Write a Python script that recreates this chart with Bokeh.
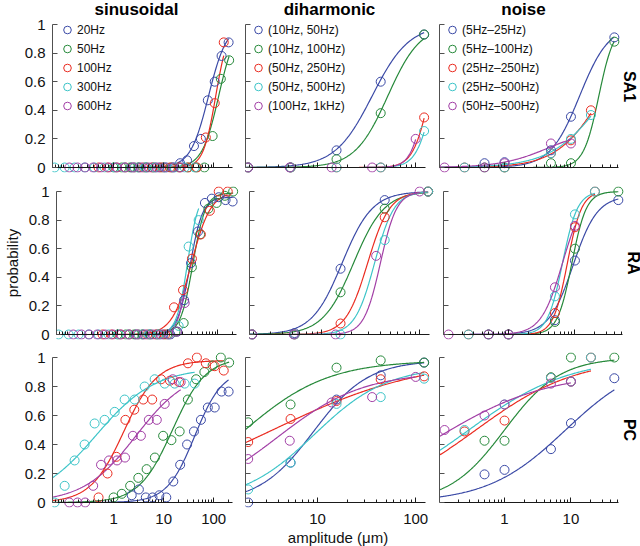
import numpy as np
from bokeh.plotting import figure
from bokeh.layouts import column, row
from bokeh.models import (Range1d, FixedTicker, CustomJSTickFormatter, Legend,
                          LegendItem, Label, Title, LogAxis)
from bokeh.embed import file_html
from bokeh.resources import INLINE

FONT = "Liberation Sans"
COLORS = ["#3b4aa6", "#26893a", "#ea2b20", "#3cc4c8", "#a23fa6"]

# ---------------- data ----------------
col_titles = ["sinusoidal", "diharmonic", "noise"]
row_titles = ["SA1", "RA", "PC"]
x_label = "amplitude (\u03bcm)"
y_label = "probability"

sin_labels = ["20Hz", "50Hz", "100Hz", "300Hz", "600Hz"]
dih_labels = ["(10Hz, 50Hz)", "(10Hz, 100Hz)", "(50Hz, 250Hz)", "(50Hz, 500Hz)", "(100Hz, 1kHz)"]
noise_labels = ["(5Hz\u201325Hz)", "(5Hz\u2013100Hz)", "(25Hz\u2013250Hz)", "(25Hz\u2013500Hz)", "(50Hz\u2013500Hz)"]

# sinusoidal amplitudes (um) per frequency
sin_amp_20 = [2.3, 3.2, 4.4, 6.0, 8.2, 11.3, 15.6, 21.4, 29.4, 40.4, 55.6, 76.4, 105, 144, 199]
sin_amp_50 = [1.0, 1.46, 2.14, 3.12, 4.57, 6.68, 9.77, 14.3, 20.9, 30.5, 44.6, 65.2, 95.3, 139, 204]
sin_amp_100 = [0.5, 0.755, 1.14, 1.72, 2.59, 3.91, 5.9, 8.9, 13.4, 20.3, 30.6, 46.2, 69.7, 105, 159]
sin_amp_300 = [0.066, 0.105, 0.166, 0.263, 0.417, 0.661, 1.05, 1.66, 2.63, 4.17, 6.61, 10.5, 16.6, 26.3, 41.7]
sin_amp_600 = [0.13, 0.19, 0.27, 0.39, 0.56, 0.81, 1.17, 1.69, 2.43, 3.51, 5.06, 7.3, 10.5, 15.2, 21.9]

sa1_sin_20 = [0, 0, 0, 0, 0, 0, 0, 0.03, 0.05, 0.15, 0.2, 0.47, 0.6, 0.78, 0.875]
sa1_sin_50 = [0, 0, 0, 0, 0, 0, 0, 0, 0, 0, 0, 0, 0.22, 0.62, 0.75]
sa1_sin_100 = [0, 0, 0, 0, 0, 0, 0, 0, 0, 0, 0, 0, 0.21, 0.45, 0.875]
sa1_sin_300 = [0, 0, 0, 0, 0, 0, 0, 0, 0, 0, 0, 0, 0, 0, 0]
sa1_sin_600 = [0, 0, 0, 0, 0, 0, 0, 0, 0, 0, 0, 0, 0, 0, 0]

ra_sin_20 = [0, 0, 0, 0, 0, 0, 0.02, 0.24, 0.5, 0.72, 0.92, 0.95, 0.96, 0.94, 0.93]
ra_sin_50 = [0, 0, 0, 0, 0, 0, 0, 0.02, 0.08, 0.47, 0.70, 0.88, 0.92, 0.97, 1.0]
ra_sin_100 = [0, 0, 0, 0, 0, 0, 0, 0, 0.19, 0.31, 0.53, 0.70, 0.865, 1.0, 1.0]
ra_sin_300 = [0, 0, 0, 0, 0, 0, 0, 0, 0, 0, 0, 0, 0.06, 0.615, 0.80]
ra_sin_600 = [0, 0, 0, 0, 0, 0, 0, 0, 0, 0, 0, 0, 0, 0.02, 0.22]

pc_sin_20 = [0.05, 0.09, 0.035, 0.035, 0.05, 0.035, 0.145, 0.26, 0.40, 0.49, 0.57, 0.655, 0.655, 0.765, 0.765]
pc_sin_50 = [0.035, 0.06, 0.115, 0.17, 0.23, 0.31, 0.46, 0.43, 0.49, 0.71, 0.85, 0.90, 0.945, 1.0, 0.965]
pc_sin_100 = [0.035, 0.2, 0.315, 0.57, 0.64, 0.71, 0.71, 0.85, 0.84, 0.83, 0.96, 1.0, 0.96, 0.94, 0.91]
pc_sin_300 = [0, 0.115, 0.29, 0.40, 0.545, 0.57, 0.625, 0.71, 0.71, 0.80, 0.85, 0.82, 0.82, 0.82, 0.82]
pc_sin_600 = [0, 0, 0, 0.115, 0.26, 0.29, 0.29, 0.31, 0.46, 0.46, 0.57, 0.57, 0.68, 0.85, 0.83]

# diharmonic amplitudes (um)
dih_amp = [1.96, 5.3, 15.6, 44, 122]
dih_amp_1k = [1.96, 5.2, 13.9, 36, 100]

sa1_dih = [[0, 0, 0.12, 0.6, 0.93], [0, 0, 0.058, 0.38, 0.93], [0, 0, 0, 0, 0.35],
           [0, 0, 0, 0, 0.255], [0, 0, 0, 0, 0.2]]
ra_dih = [[0, 0.01, 0.46, 0.94, 1.0], [0, 0, 0.295, 0.88, 1.0], [0, 0, 0.077, 0.82, 1.0],
          [0, 0, 0, 0.66, 1.0], [0, 0, 0, 0.55, 1.0]]
pc_dih = [[0, 0.275, 0.71, 0.877, 0.965], [0.553, 0.676, 0.93, 0.98, 0.965],
          [0.417, 0.576, 0.70, 0.85, 0.87], [0.09, 0.275, 0.68, 0.727, 0.854],
          [0.30, 0.426, 0.69, 0.727, 0.866]]

# noise amplitudes (um)
noise_amp_low = [0.5, 1, 5, 10, 45]
noise_amp_mid = [0.25, 1, 5, 10, 20]
noise_amp_high = [0.125, 0.5, 1, 5, 10]

sa1_noise = [[0.03, 0.037, 0.12, 0.355, 0.91], [0, 0, 0.03, 0.03, 0.88], [0, 0, 0.10, 0.19, 0.40],
             [0, 0, 0.10, 0.20, 0.367], [0, 0, 0.03, 0.168, 0.168]]
ra_noise = [[0, 0, 0.1, 0.517, 0.94], [0, 0, 0.088, 0.60, 1.0], [0, 0, 0.15, 0.75, 1.0],
            [0, 0, 0.267, 0.84, 1.0], [0, 0, 0, 0.33, 0.76]]
pc_noise = [[0.194, 0.225, 0.368, 0.547, 0.857], [0.426, 0.426, 0.864, 1.0, 1.0],
            [0.49, 0.565, 0.86, 0.834, 1.0], [0.50, 0.676, 0.86, 0.834, 1.0],
            [0.50, 0.60, 0.676, 0.82, 0.834]]

# psychometric fits: (threshold um, slope per decade, ceiling)
sa1_sin_fit = [(79, 5.5, 1.0), (126, 6.0, 1.0), (110, 8.0, 1.0), (1, 1, 0.0), (1, 1, 0.0)]
ra_sin_fit = [(28, 8.0, 0.96), (32, 8.0, 0.99), (30, 5.2, 1.0), (25, 9.0, 1.0), (26, 10.0, 1.0)]
pc_sin_fit = [(42, 3.6, 0.92), (15, 3.0, 1.0), (1.6, 3.0, 0.98), (0.45, 1.7, 0.93), (2.8, 1.9, 0.92)]
sa1_dih_fit = [(36, 5.3, 1.0), (52, 6.0, 1.0), (138, 12, 1.0), (151, 12, 1.0), (126, 14, 1.0)]
ra_dih_fit = [(16.2, 6.5, 1.0), (21.2, 6.4, 1.0), (29.5, 8.9, 1.0), (34.7, 10, 1.0), (39.8, 12, 1.0)]
pc_dih_fit = [(9.1, 3.6, 0.98), (1.74, 2.3, 0.98), (3.47, 1.28, 1.0), (9.3, 2.7, 0.94), (3.9, 2.29, 0.9)]
sa1_noise_fit = [(13.5, 4.5, 1.0), (26.3, 8.7, 1.0), (29.5, 2.93, 1.0), (33.9, 2.52, 1.0), (4.47, 2.8, 0.27)]
ra_noise_fit = [(9.4, 5.5, 0.97), (9.0, 9.15, 1.0), (7.7, 9.4, 1.0), (6.5, 8.9, 1.0), (6.5, 6.2, 1.0)]
pc_noise_fit = [(8.3, 1.7, 1.0), (1.0, 2.4, 1.0), (0.37, 1.32, 1.0), (0.29, 1.32, 1.0), (0.1, 1.2, 0.9)]

y_ticks = [0, 0.2, 0.4, 0.6, 0.8, 1]

# ---------------- assembly ----------------
sin_amps = [sin_amp_20, sin_amp_50, sin_amp_100, sin_amp_300, sin_amp_600]
dih_amps = [dih_amp, dih_amp, dih_amp, dih_amp, dih_amp_1k]
noise_amps = [noise_amp_low, noise_amp_low, noise_amp_mid, noise_amp_mid, noise_amp_high]
labels = [sin_labels, dih_labels, noise_labels]
panel_data = [
    [(sin_amps, [sa1_sin_20, sa1_sin_50, sa1_sin_100, sa1_sin_300, sa1_sin_600], sa1_sin_fit),
     (dih_amps, sa1_dih, sa1_dih_fit), (noise_amps, sa1_noise, sa1_noise_fit)],
    [(sin_amps, [ra_sin_20, ra_sin_50, ra_sin_100, ra_sin_300, ra_sin_600], ra_sin_fit),
     (dih_amps, ra_dih, ra_dih_fit), (noise_amps, ra_noise, ra_noise_fit)],
    [(sin_amps, [pc_sin_20, pc_sin_50, pc_sin_100, pc_sin_300, pc_sin_600], pc_sin_fit),
     (dih_amps, pc_dih, pc_dih_fit), (noise_amps, pc_noise, pc_noise_fit)],
]

# layout constants (pixels)
col_AW = [180, 180, 179]
col_PR = [5, 5, 2]
PB = 5
col_x0 = [0.06, 1.84, 0.105]
col_x1 = [238.0, 126.0, 52.0]
col_major = [[1, 10, 100], [10, 100], [1, 10]]
mbl = [52, 8, 9]
row_S = [143, 143, 145]
row_pt = [24, 5, 5]
mbt = [0, 12, 11]
mbb = [2, 2, 0]
legend_x = [5, 3, 3]
title_px = 84


def logistic(x, mid, slope, top):
    return top / (1.0 + np.exp(-slope * (np.log10(x) - np.log10(mid))))


def minor_ticks(x0, x1, majors):
    out = []
    for d in range(-3, 4):
        for k in range(1, 10):
            v = k * 10.0 ** d
            if x0 <= v <= x1 and v not in majors:
                out.append(v)
    return out


def style_line_axis(ax, ticker_major, x0, x1):
    ax.ticker = FixedTicker(ticks=ticker_major, minor_ticks=minor_ticks(x0, x1, ticker_major))
    ax.bounds = (x0, x1)
    ax.fixed_location = 0
    ax.major_tick_in, ax.major_tick_out = 5, 0
    ax.minor_tick_in, ax.minor_tick_out = 3, 0
    ax.axis_line_color = "#1a1a1a"
    ax.major_tick_line_color = "#1a1a1a"
    ax.minor_tick_line_color = "#1a1a1a"
    ax.formatter = CustomJSTickFormatter(code="return ''")
    ax.major_label_text_font_size = "0px"
    ax.major_label_standoff = 0


rows = []
for r in range(3):
    figs = []
    for c in range(3):
        amps, ys, fits = panel_data[r][c]
        x0, x1 = col_x0[c], col_x1[c]
        AW, PR = col_AW[c], col_PR[c]
        span = np.log10(x1 / x0)
        xr_end = 10 ** (np.log10(x1) + PR * span / AW)
        S, pt = row_S[r], row_pt[r]
        FH = S + PB + pt
        p = figure(x_axis_type="log", x_range=Range1d(x0, xr_end),
                   y_range=Range1d(-PB / S, 1 + pt / S),
                   frame_width=AW + PR, frame_height=FH,
                   output_backend="svg", toolbar_location=None,
                   min_border_left=mbl[c], min_border_right=0,
                   min_border_top=mbt[r], min_border_bottom=mbb[r])
        p.grid.visible = False
        p.outline_line_color = None
        p.background_fill_color = "white"
        p.border_fill_color = "white"

        xax = p.xaxis[0]
        if r < 2:
            style_line_axis(xax, col_major[c], x0, x1)
        else:
            # default axis: labels only (at frame bottom)
            xax.ticker = FixedTicker(ticks=col_major[c], minor_ticks=[])
            xax.axis_line_color = None
            xax.major_tick_line_color = None
            xax.minor_tick_line_color = None
            xax.formatter = CustomJSTickFormatter(code="return tick.toString()")
            xax.major_label_text_font = FONT
            xax.major_label_text_font_size = "15px"
            xax.major_label_text_color = "#111111"
            xax.major_label_standoff = 0
            if c == 1:
                xax.axis_label = x_label
                xax.axis_label_text_font = FONT
                xax.axis_label_text_font_size = "15px"
                xax.axis_label_text_font_style = "normal"
                xax.axis_label_text_color = "#111111"
                xax.axis_label_standoff = 2
            line_ax = LogAxis()
            style_line_axis(line_ax, col_major[c], x0, x1)
            p.add_layout(line_ax, "below")

        yax = p.yaxis[0]
        yax.ticker = FixedTicker(ticks=y_ticks, minor_ticks=[])
        yax.bounds = (0, 1)
        yax.major_tick_in, yax.major_tick_out = 5, 0
        yax.minor_tick_in, yax.minor_tick_out = 0, 0
        yax.axis_line_color = "#505050"
        yax.major_tick_line_color = "#505050"
        yax.major_label_text_font = FONT
        yax.major_label_text_color = "#111111"
        if c == 0:
            yax.formatter = CustomJSTickFormatter(code="return tick.toString()")
            yax.major_label_text_font_size = "15px"
            yax.major_label_standoff = 7
        else:
            yax.formatter = CustomJSTickFormatter(code="return ''")
            yax.major_label_text_font_size = "0px"
            yax.major_label_standoff = 0
        if r == 1 and c == 0:
            yax.axis_label = y_label
            yax.axis_label_text_font = FONT
            yax.axis_label_text_font_size = "15px"
            yax.axis_label_text_font_style = "normal"
            yax.axis_label_text_color = "#111111"
            yax.axis_label_standoff = 5

        rends = []
        for i in range(5):
            xs = np.geomspace(x0, max(amps[i]), 200)
            p.line(xs, logistic(xs, *fits[i]), line_color=COLORS[i], line_width=1.2)
        for i in range(5):
            rr = p.scatter(amps[i], ys[i], marker="circle", size=9, fill_color=None,
                           line_color=COLORS[i], line_width=1)
            rends.append(rr)

        if r == 0:
            leg = Legend(items=[LegendItem(label=labels[c][i], renderers=[rends[i]]) for i in range(5)],
                         location=(legend_x[c], FH - 115),
                         glyph_width=20, glyph_height=19, label_height=19, spacing=0,
                         padding=0, margin=0, label_standoff=0,
                         label_text_font=FONT, label_text_font_size="12px",
                         label_text_color="#111111",
                         border_line_color=None, background_fill_alpha=0)
            p.add_layout(leg)
            p.add_layout(Label(x=10 ** (np.log10(x0) + title_px * span / AW), y=1 + 15 / S,
                               text=col_titles[c], text_align="center", text_baseline="middle",
                               text_font=FONT, text_font_size="17px", text_font_style="bold",
                               text_color="#000000"))
        if c == 2:
            p.add_layout(Title(text=row_titles[r], align="center", text_font=FONT,
                               text_font_size="16px", text_font_style="bold", standoff=0,
                               text_color="#000000"), "right")
        figs.append(p)
    rows.append(row(*figs))

layout = column(*rows)
open("out.html", "w").write(file_html(layout, INLINE, "chart"))
